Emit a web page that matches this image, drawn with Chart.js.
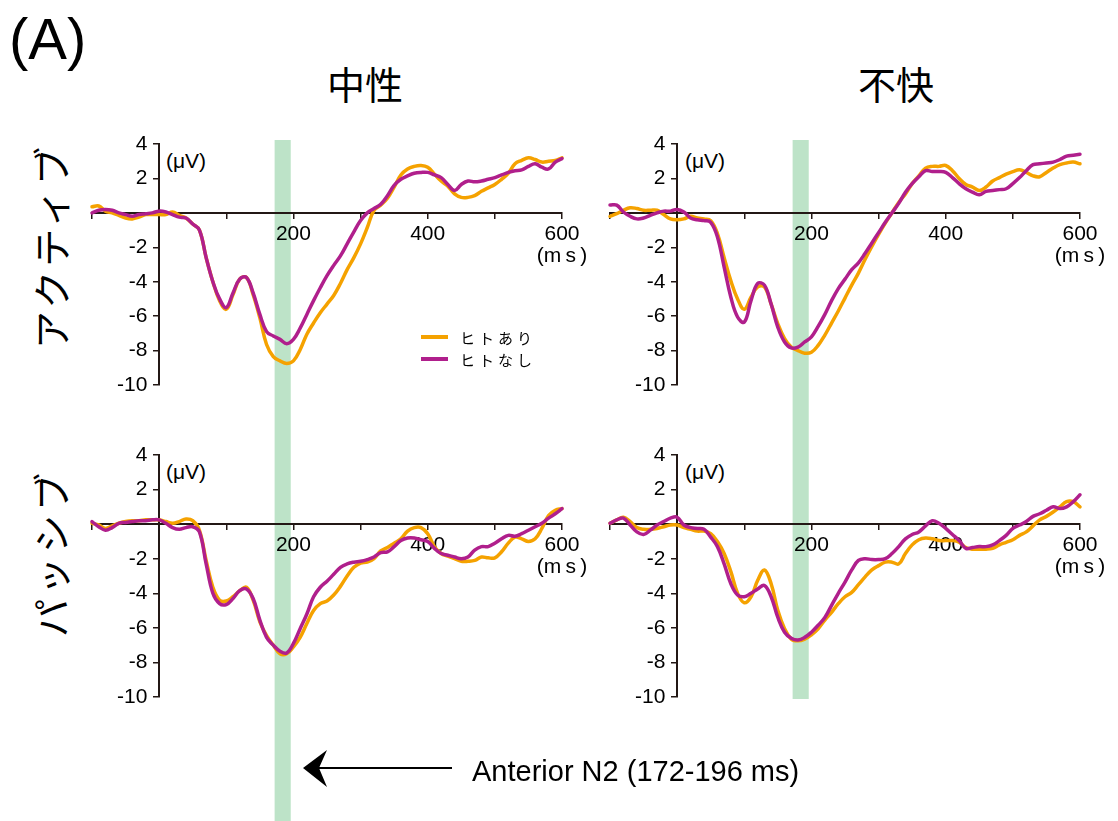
<!DOCTYPE html>
<html>
<head>
<meta charset="utf-8">
<script src="https://cdn.jsdelivr.net/npm/chart.js@4.4.1/dist/chart.umd.min.js"></script>
<style>
  body { margin: 0; background: #fff; width: 1118px; height: 821px; overflow: hidden; position: relative;
         font-family: "Liberation Sans", Arial, sans-serif; color: #000; }
  canvas { position: absolute; }
  .txt { position: absolute; white-space: nowrap; line-height: 1; }
  .jp { font-family: "Noto Sans CJK JP", sans-serif; }
  .title { font-size: 38px; transform: translate(-50%, -50%); }
  .row { font-size: 38px; letter-spacing: 4px; transform: translate(-50%, -50%) rotate(-90deg); }
  .unit { font-size: 21px; transform: translateY(-50%); }
  .leg { font-size: 15px; letter-spacing: 4px; transform: translateY(-50%); }
  .sw { position: absolute; width: 27px; height: 4px; }
</style>
</head>
<body>

<div class="txt" style="left:9px;top:10px;font-size:58px">(A)</div>
<div class="txt jp title" style="left:365px;top:83px">中性</div>
<div class="txt jp title" style="left:896px;top:83px">不快</div>
<div class="txt jp row" style="left:50px;top:246px">アクティブ</div>
<div class="txt jp row" style="left:50px;top:553px">パッシブ</div>

<div class="txt unit" style="left:166px;top:160px">(μV)</div>
<div class="txt unit" style="left:685px;top:160px">(μV)</div>
<div class="txt unit" style="left:166px;top:471px">(μV)</div>
<div class="txt unit" style="left:685px;top:471px">(μV)</div>

<canvas id="neuActive" width="546" height="311" style="left:52px;top:114px"></canvas>
<canvas id="unpActive" width="546" height="311" style="left:570px;top:114px"></canvas>
<canvas id="neuPassive" width="546" height="396" style="left:52px;top:425px"></canvas>
<canvas id="unpPassive" width="546" height="312" style="left:570px;top:425px"></canvas>

<div class="sw" style="left:421px;top:335px;background:#f5a200"></div>
<div class="sw" style="left:421px;top:357px;background:#b01f8c"></div>
<div class="txt jp leg" style="left:460px;top:337px">ヒトあり</div>
<div class="txt jp leg" style="left:460px;top:359px">ヒトなし</div>

<svg style="position:absolute;left:296px;top:745px" width="160" height="50">
  <line x1="20" y1="23" x2="156" y2="23" stroke="#000" stroke-width="2"/>
  <polygon points="7,23 31,5 23,23 31,42" fill="#000"/>
</svg>
<div class="txt" style="left:472px;top:771px;font-size:29px;transform:translateY(-50%)">Anterior N2 (172-196 ms)</div>

<script>
// time axis, ms (-100 .. 600, every 10 ms)
const times = [-100, -90, -80, -70, -60, -50, -40, -30, -20, -10,
  0, 10, 20, 30, 40, 50, 60, 70, 80, 90,
  100, 110, 120, 130, 140, 150, 160, 170, 180, 190,
  200, 210, 220, 230, 240, 250, 260, 270, 280, 290,
  300, 310, 320, 330, 340, 350, 360, 370, 380, 390,
  400, 410, 420, 430, 440, 450, 460, 470, 480, 490,
  500, 510, 520, 530, 540, 550, 560, 570, 580, 590, 600];

const seriesNames = ['ヒトあり', 'ヒトなし'];
const xTickLabels = [200, 400, 600];
const xUnit = '(m\u2009s\u2009)';
const n2Window = [172, 196];

// 中性 / アクティブ
const neuActiveWith = [0.35, 0.4, 0.1, 0.0, -0.15, -0.3, -0.35, -0.25, -0.1, -0.1,
  -0.1, -0.1, 0.05, -0.15, -0.3, -0.65, -1.0, -2.6, -4.0, -5.1,
  -5.6, -4.75, -3.85, -3.75, -4.75, -6.1, -7.65, -8.35, -8.6, -8.75,
  -8.6, -7.95, -7.05, -6.4, -5.8, -5.3, -4.8, -4.1, -3.3, -2.6,
  -1.8, -0.85, 0.15, 0.45, 0.85, 1.5, 2.2, 2.55, 2.7, 2.75,
  2.65, 2.25, 1.85, 1.55, 1.1, 0.9, 0.9, 1.0, 1.25, 1.45,
  1.65, 1.95, 2.3, 2.85, 3.05, 3.2, 3.1, 2.95, 3.0, 3.05, 3.2];
const neuActiveWithout = [0.0, 0.15, 0.2, 0.15, 0.0, -0.1, -0.2, -0.1, -0.05, 0.0,
  0.1, 0.05, -0.1, -0.25, -0.3, -0.65, -1.0, -2.6, -4.0, -5.0,
  -5.5, -4.65, -3.85, -3.75, -4.65, -5.9, -6.9, -7.15, -7.35, -7.6,
  -7.35, -6.7, -5.9, -5.1, -4.35, -3.65, -3.05, -2.5, -1.8, -1.1,
  -0.45, 0.0, 0.25, 0.5, 1.0, 1.6, 1.95, 2.15, 2.3, 2.35,
  2.35, 2.2, 2.05, 1.65, 1.3, 1.65, 1.85, 1.8, 1.85, 1.95,
  2.05, 2.2, 2.35, 2.45, 2.5, 2.7, 2.85, 2.65, 2.55, 2.95, 3.15];

// 不快 / アクティブ
const unpActiveWith = [-0.2, -0.05, 0.15, 0.3, 0.25, 0.15, 0.15, 0.15, -0.1, -0.35,
  -0.4, -0.35, -0.2, -0.3, -0.35, -0.45, -1.2, -2.6, -3.95, -5.0,
  -5.6, -4.9, -4.3, -4.3, -5.3, -6.45, -7.3, -7.8, -8.0, -8.15,
  -8.1, -7.7, -7.1, -6.4, -5.7, -4.95, -4.2, -3.5, -2.7, -1.95,
  -1.25, -0.6, 0.0, 0.6, 1.1, 1.7, 2.15, 2.6, 2.7, 2.7,
  2.75, 2.45, 2.0, 1.65, 1.5, 1.3, 1.5, 1.85, 2.05, 2.25,
  2.4, 2.5, 2.35, 2.15, 2.1, 2.35, 2.6, 2.8, 2.9, 2.95, 2.85];
const unpActiveWithout = [0.45, 0.45, 0.05, -0.2, -0.35, -0.3, -0.15, 0.0, 0.1, 0.1,
  0.2, 0.05, -0.3, -0.4, -0.45, -0.55, -1.4, -3.15, -4.9, -6.05,
  -6.35, -5.1, -4.1, -4.2, -5.3, -6.65, -7.5, -7.85, -7.8, -7.5,
  -7.2, -6.6, -5.9, -5.1, -4.4, -3.85, -3.3, -2.9, -2.35, -1.75,
  -1.15, -0.55, 0.0, 0.55, 1.2, 1.7, 2.1, 2.45, 2.4, 2.4,
  2.35, 2.05, 1.7, 1.4, 1.2, 1.05, 1.25, 1.3, 1.35, 1.4,
  1.7, 2.05, 2.45, 2.8, 2.85, 2.9, 2.95, 3.1, 3.3, 3.35, 3.4];

// 中性 / パッシブ
const neuPassiveWith = [0.05, -0.05, -0.25, -0.1, 0.05, 0.15, 0.2, 0.2, 0.25, 0.25,
  0.25, 0.15, 0.05, 0.15, 0.3, 0.2, -0.35, -2.1, -3.65, -4.4,
  -4.45, -4.2, -3.85, -3.65, -4.4, -5.65, -6.45, -7.0, -7.5, -7.5,
  -7.1, -6.55, -5.75, -5.0, -4.6, -4.45, -4.1, -3.6, -3.0, -2.5,
  -2.25, -2.2, -2.0, -1.55, -1.35, -1.1, -0.85, -0.4, -0.2, -0.2,
  -0.55, -1.3, -1.7, -1.85, -2.0, -2.15, -2.15, -2.1, -1.9, -1.95,
  -1.95, -1.6, -1.1, -0.75, -0.85, -1.0, -0.85, -0.25, 0.5, 0.8, 0.9];
const neuPassiveWithout = [0.15, -0.15, -0.35, -0.2, 0.05, 0.1, 0.15, 0.2, 0.2, 0.25,
  0.25, 0.05, -0.2, -0.3, -0.2, -0.15, -0.45, -2.3, -4.0, -4.6,
  -4.65, -4.3, -3.85, -3.75, -4.3, -5.55, -6.55, -7.0, -7.35, -7.45,
  -6.9, -6.05, -5.2, -4.2, -3.65, -3.3, -2.9, -2.5, -2.3, -2.2,
  -2.15, -2.05, -1.9, -1.65, -1.6, -1.3, -0.95, -0.8, -0.8, -0.9,
  -1.0, -1.4, -1.7, -1.8, -1.9, -2.0, -1.9, -1.5, -1.3, -1.3,
  -1.1, -0.85, -0.65, -0.7, -0.55, -0.35, -0.15, 0.05, 0.35, 0.6, 0.9];

// 不快 / パッシブ
const unpPassiveWith = [0.05, 0.25, 0.4, 0.15, -0.2, -0.3, -0.3, -0.25, -0.15, -0.05,
  -0.05, -0.2, -0.3, -0.4, -0.4, -0.55, -1.0, -1.7, -2.75, -4.0,
  -4.55, -4.2, -3.25, -2.65, -3.45, -5.0, -6.05, -6.65, -6.75, -6.65,
  -6.4, -6.05, -5.55, -5.1, -4.6, -4.2, -3.95, -3.5, -3.05, -2.65,
  -2.4, -2.2, -2.2, -2.3, -1.7, -1.2, -0.9, -0.8, -0.85, -0.95,
  -0.95, -0.95, -1.05, -1.35, -1.45, -1.45, -1.45, -1.4, -1.2, -1.05,
  -0.9, -0.65, -0.45, -0.1, 0.25, 0.45, 0.7, 1.0, 1.3, 1.3, 1.0];
const unpPassiveWithout = [0.05, 0.25, 0.35, -0.05, -0.45, -0.6, -0.35, -0.05, 0.15, 0.35,
  0.4, -0.05, -0.2, -0.25, -0.3, -0.75, -1.3, -2.3, -3.45, -4.1,
  -4.2, -4.0, -3.75, -3.55, -4.2, -5.4, -6.25, -6.6, -6.7, -6.55,
  -6.25, -5.85, -5.4, -4.7, -4.0, -3.35, -2.65, -2.1, -2.0, -2.05,
  -2.05, -2.0, -1.7, -1.3, -0.85, -0.6, -0.45, -0.1, 0.2, 0.05,
  -0.25, -0.6, -0.95, -1.4, -1.35, -1.3, -1.3, -1.2, -0.95, -0.65,
  -0.25, -0.05, 0.15, 0.45, 0.6, 0.8, 1.0, 0.9, 1.0, 1.3, 1.7];

const withColor = '#f5a200';
const withoutColor = '#b01f8c';
const axisColor = '#231815';
const bandColor = 'rgba(178, 222, 190, 0.85)';

// light green band over the N2 window, drawn under the axes
const n2Band = {
  id: 'n2Band',
  beforeDraw(chart, args, opts) {
    const { ctx, chartArea } = chart;
    const x = chart.scales.x;
    const left = x.getPixelForValue(n2Window[0]);
    const right = x.getPixelForValue(n2Window[1]);
    const top = opts.fromTop ? 0 : chartArea.top - 4;
    const bottom = opts.toBottom ? chart.height : chartArea.bottom + 2;
    ctx.save();
    ctx.fillStyle = bandColor;
    ctx.fillRect(left, top, right - left, bottom - top);
    ctx.restore();
  }
};

function toPoints(values) {
  return times.map((t, i) => ({ x: t, y: values[i] }));
}

function drawPanel(id, withValues, withoutValues, bottomPad, band) {
  const ctx = document.getElementById(id).getContext('2d');
  const tickFont = { family: 'Liberation Sans', size: 21, lineHeight: 1.05 };
  return new Chart(ctx, {
    type: 'line',
    data: {
      datasets: [{
        label: seriesNames[0],
        data: toPoints(withValues),
        borderColor: withColor,
        borderWidth: 3.5,
        order: 1
      }, {
        label: seriesNames[1],
        data: toPoints(withoutValues),
        borderColor: withoutColor,
        borderWidth: 3.5,
        order: 0
      }]
    },
    options: {
      responsive: false,
      animation: false,
      events: [],
      layout: { padding: { left: 40, right: 36, top: 30, bottom: bottomPad } },
      elements: {
        point: { radius: 0 },
        line: { tension: 0.4, fill: false, borderCapStyle: 'round', borderJoinStyle: 'round' }
      },
      datasets: { line: { clip: false } },
      scales: {
        x: {
          type: 'linear',
          position: { y: 0 },
          min: -100,
          max: 600,
          grid: { drawOnChartArea: false, drawTicks: true, tickLength: 5, color: axisColor, lineWidth: 1.5 },
          border: { display: true, color: axisColor, width: 2 },
          ticks: {
            stepSize: 100,
            autoSkip: false,
            maxRotation: 0,
            minRotation: 0,
            padding: 5,
            color: '#000',
            font: tickFont,
            callback: v => v === 600 ? [String(v), xUnit] : (xTickLabels.includes(v) ? String(v) : '')
          }
        },
        y: {
          type: 'linear',
          position: { x: 0 },
          min: -10,
          max: 4,
          grid: { drawOnChartArea: false, drawTicks: true, tickLength: 5, color: axisColor, lineWidth: 1.5 },
          border: { display: true, color: axisColor, width: 2 },
          ticks: {
            stepSize: 2,
            autoSkip: false,
            color: '#000',
            font: tickFont,
            callback: v => v === 0 ? '' : v + '  '
          }
        }
      },
      plugins: {
        legend: { display: false },
        tooltip: { enabled: false },
        n2Band: band
      }
    },
    plugins: [n2Band]
  });
}

drawPanel('neuActive', neuActiveWith, neuActiveWithout, 40, { fromTop: false, toBottom: true });
drawPanel('unpActive', unpActiveWith, unpActiveWithout, 40, { fromTop: false, toBottom: true });
drawPanel('neuPassive', neuPassiveWith, neuPassiveWithout, 124, { fromTop: true, toBottom: true });
drawPanel('unpPassive', unpPassiveWith, unpPassiveWithout, 40, { fromTop: true, toBottom: false });
</script>
</body>
</html>
